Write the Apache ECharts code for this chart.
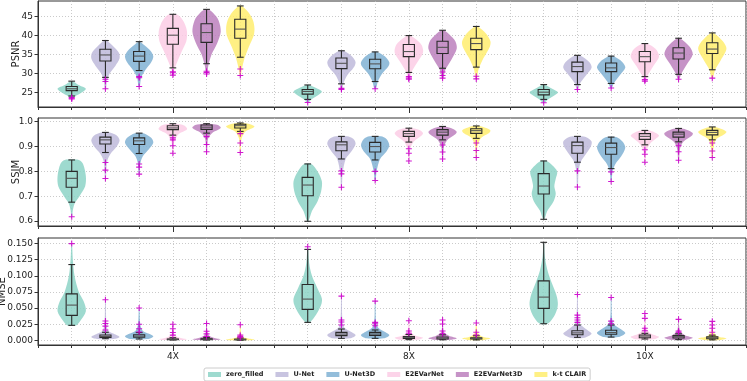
<!DOCTYPE html>
<html><head><meta charset="utf-8">
<script src="https://cdn.jsdelivr.net/npm/echarts@6/dist/echarts.min.js"></script>
<style>html,body{margin:0;padding:0;background:#fff}#c{width:747px;height:381px}</style>
</head><body><div id="c"></div>
<script>
const groups = ['4X', '8X', '10X'];
const groupPos = [3, 10, 17];
const methods = ['zero_filled', 'U-Net', 'U-Net3D', 'E2EVarNet', 'E2EVarNet3D', 'k-t CLAIR'];
const colors = ['#8dd3c7', '#bebada', '#80b1d3', '#fccde5', '#bc80bd', '#ffed6f'];

const psnrTicks = [25, 30, 35, 40, 45];
const ssimTicks = [0.6, 0.7, 0.8, 0.9, 1.0];
const nmseTicks = [0, 0.025, 0.05, 0.075, 0.1, 0.125, 0.15];

// box stats [whiskerLow, q1, median, q3, whiskerHigh]; rows = groups, columns = methods
const psnrBox = [
  [[24.1,25.5,26.0,26.6,28.0],[29.0,33.3,34.9,36.4,38.7],[30.8,33.2,34.6,35.8,38.4],[31.5,37.7,40.1,41.9,45.6],[32.6,38.2,40.8,43.1,46.9],[34.3,39.3,41.7,44.3,47.8]],
  [[23.2,24.6,25.3,25.8,27.0],[27.3,31.3,32.7,34.1,36.0],[27.9,31.25,32.55,33.75,35.7],[30.3,34.45,35.8,37.65,40.0],[31.4,35.3,36.9,38.5,41.4],[31.7,36.3,37.9,39.3,42.4]],
  [[23.2,24.4,25.1,25.8,27.1],[27.1,30.5,31.85,33.0,34.8],[27.4,30.5,31.5,32.8,34.6],[29.2,33.1,34.45,35.8,37.9],[29.8,33.85,35.4,36.8,39.3],[31.0,35.3,36.45,38.1,40.7]]
];
const psnrOut = [
  [[23.3,23.5,23.7],[28.5,27.9,26.0],[29.2,28.9,26.6],[30.5,30.2,29.6],[30.6,30.3,29.9],[31.2,29.5]],
  [[22.4],[25.8,26.1],[26.0],[29.2,28.8,28.5],[30.4,29.5,28.8],[29.3,28.6]],
  [[22.3],[25.8],[26.2],[28.4,28.0],[28.5],[28.8]]
];
const psnrShape = [
  [
    [[23.3,0.05],[24,0.25],[25,0.7],[26,1],[27,0.5],[28,0.06]],
    [[25.8,0.04],[28,0.1],[30,0.3],[32,0.7],[34,1],[35.5,0.95],[37,0.6],[38.8,0.08]],
    [[26.5,0.04],[29,0.15],[31,0.45],[33,0.85],[34.5,1],[36,0.8],[37.5,0.35],[38.4,0.06]],
    [[29.6,0.04],[31,0.1],[33,0.3],[36,0.65],[38.5,0.95],[41,1],[43,0.85],[44.8,0.55],[45.6,0.25]],
    [[29.9,0.04],[32,0.12],[35,0.35],[38,0.75],[41,1],[44,0.85],[46,0.45],[46.9,0.12]],
    [[29.5,0.04],[31,0.1],[34,0.3],[37,0.6],[40,0.95],[42,1],[44,0.9],[46,0.6],[47.8,0.12]]
  ],
  [
    [[22.4,0.05],[23.2,0.25],[24.5,0.8],[25.3,1],[26,0.7],[27,0.1]],
    [[25.8,0.05],[27.5,0.15],[29.5,0.4],[31.5,0.85],[33,1],[34.5,0.75],[36,0.15]],
    [[26,0.05],[28,0.2],[30,0.5],[32,0.95],[33,1],[34.5,0.7],[35.7,0.15]],
    [[28.5,0.05],[30.5,0.2],[33,0.6],[35.5,1],[37.5,0.9],[39,0.5],[40,0.1]],
    [[28.8,0.05],[31,0.2],[33.5,0.6],[36.5,1],[38.5,0.9],[40.2,0.5],[41.4,0.1]],
    [[28.6,0.05],[31,0.15],[34,0.5],[37,0.95],[38.5,1],[40.5,0.7],[42.4,0.1]]
  ],
  [
    [[22.3,0.05],[23.2,0.3],[24.5,0.85],[25.1,1],[26,0.6],[27.1,0.05]],
    [[25.8,0.05],[27.5,0.2],[29.5,0.6],[31.5,1],[33,0.85],[34.8,0.15]],
    [[26.2,0.05],[27.5,0.2],[29.5,0.6],[31.5,1],[33,0.8],[34.6,0.15]],
    [[28,0.05],[29.5,0.2],[32,0.6],[34.5,1],[36.5,0.75],[37.9,0.15]],
    [[28.5,0.05],[30,0.2],[32.5,0.6],[35,1],[37,0.8],[39.3,0.1]],
    [[28.8,0.05],[31,0.2],[33.5,0.6],[36.5,1],[38.5,0.75],[40.7,0.1]]
  ]
];

const ssimBox = [
  [[0.676,0.736,0.772,0.80,0.846],[0.876,0.91,0.927,0.938,0.957],[0.872,0.908,0.923,0.935,0.954],[0.946,0.968,0.975,0.984,0.992],[0.954,0.969,0.978,0.987,0.992],[0.961,0.975,0.984,0.99,0.995]],
  [[0.599,0.702,0.745,0.776,0.83],[0.85,0.883,0.907,0.919,0.941],[0.846,0.878,0.90,0.917,0.941],[0.918,0.941,0.952,0.961,0.974],[0.927,0.946,0.958,0.968,0.981],[0.933,0.953,0.964,0.972,0.983]],
  [[0.607,0.709,0.741,0.791,0.842],[0.837,0.873,0.904,0.918,0.941],[0.811,0.869,0.896,0.914,0.938],[0.907,0.929,0.941,0.952,0.965],[0.919,0.938,0.95,0.958,0.973],[0.927,0.947,0.957,0.965,0.979]]
];
const ssimOut = [
  [[0.617],[0.836,0.805,0.771],[0.83,0.817,0.789],[0.935,0.927,0.903,0.873],[0.94,0.908,0.879],[0.952,0.914,0.876]],
  [[],[0.802,0.79,0.736],[0.80,0.763],[0.891,0.873,0.842],[0.906,0.878,0.85],[0.914,0.884,0.856]],
  [[],[0.802,0.737],[0.798,0.759],[0.887,0.869,0.837],[0.903,0.879,0.845],[0.914,0.882,0.856]]
];
const ssimShape = [
  [
    [[0.617,0.03],[0.64,0.07],[0.67,0.2],[0.70,0.55],[0.74,0.95],[0.78,1],[0.83,0.8],[0.846,0.5]],
    [[0.771,0.03],[0.8,0.06],[0.84,0.12],[0.87,0.35],[0.9,0.8],[0.925,1],[0.945,0.8],[0.957,0.3]],
    [[0.789,0.03],[0.83,0.08],[0.86,0.25],[0.89,0.7],[0.915,1],[0.935,0.85],[0.954,0.3]],
    [[0.873,0.03],[0.92,0.1],[0.95,0.4],[0.97,1],[0.985,0.8],[0.992,0.2]],
    [[0.879,0.03],[0.93,0.1],[0.955,0.4],[0.975,1],[0.987,0.8],[0.992,0.2]],
    [[0.876,0.03],[0.93,0.08],[0.96,0.35],[0.98,1],[0.99,0.7],[0.995,0.2]]
  ],
  [
    [[0.599,0.05],[0.64,0.3],[0.68,0.7],[0.72,0.95],[0.76,1],[0.8,0.7],[0.83,0.25]],
    [[0.736,0.03],[0.79,0.08],[0.85,0.3],[0.88,0.7],[0.91,1],[0.93,0.85],[0.941,0.4]],
    [[0.763,0.03],[0.80,0.1],[0.85,0.35],[0.88,0.8],[0.905,1],[0.93,0.8],[0.941,0.4]],
    [[0.842,0.03],[0.89,0.1],[0.92,0.35],[0.945,0.9],[0.955,1],[0.967,0.75],[0.974,0.3]],
    [[0.85,0.03],[0.9,0.1],[0.93,0.4],[0.95,0.9],[0.96,1],[0.972,0.7],[0.981,0.2]],
    [[0.856,0.03],[0.9,0.08],[0.935,0.35],[0.955,0.9],[0.965,1],[0.975,0.7],[0.983,0.2]]
  ],
  [
    [[0.607,0.05],[0.64,0.25],[0.68,0.7],[0.71,0.85],[0.74,0.75],[0.77,0.85],[0.8,0.95],[0.825,0.6],[0.842,0.2]],
    [[0.737,0.03],[0.8,0.08],[0.84,0.25],[0.87,0.6],[0.9,0.95],[0.92,1],[0.935,0.7],[0.941,0.35]],
    [[0.759,0.03],[0.8,0.1],[0.83,0.3],[0.86,0.7],[0.895,1],[0.92,0.8],[0.938,0.35]],
    [[0.837,0.03],[0.88,0.1],[0.91,0.35],[0.935,0.85],[0.945,1],[0.957,0.7],[0.965,0.3]],
    [[0.845,0.03],[0.89,0.1],[0.92,0.35],[0.945,0.95],[0.955,1],[0.967,0.6],[0.973,0.25]],
    [[0.856,0.03],[0.9,0.1],[0.93,0.3],[0.95,0.85],[0.96,1],[0.972,0.6],[0.979,0.2]]
  ]
];

const nmseBox = [
  [[0.0232,0.0387,0.0546,0.072,0.1175],[0.0025,0.0046,0.006,0.0082,0.0124],[0.002,0.0048,0.0065,0.0085,0.012],[0.0005,0.001,0.0015,0.002,0.004],[0.0005,0.001,0.0017,0.0025,0.0045],[0.0003,0.0007,0.0012,0.0018,0.0035]],
  [[0.0278,0.048,0.0639,0.0866,0.141],[0.003,0.0072,0.0097,0.0123,0.0175],[0.003,0.0077,0.0098,0.0123,0.016],[0.001,0.003,0.0045,0.006,0.009],[0.0008,0.002,0.0035,0.005,0.0085],[0.0006,0.002,0.003,0.004,0.007]],
  [[0.0257,0.0495,0.067,0.0922,0.152],[0.0046,0.0087,0.0115,0.0149,0.0237],[0.005,0.0093,0.012,0.0155,0.0237],[0.002,0.004,0.0065,0.0082,0.0108],[0.001,0.0036,0.0055,0.0072,0.01],[0.0007,0.0025,0.004,0.0055,0.008]]
];
const nmseOut = [
  [[0.150],[0.063,0.030,0.026,0.022,0.016],[0.050,0.025,0.018,0.013],[0.025,0.018,0.012,0.008],[0.026,0.014,0.010,0.006],[0.024,0.008,0.006,0.004]],
  [[0.145],[0.0685,0.0314,0.0283,0.0237],[0.0608,0.0278,0.0257,0.0226],[0.0303,0.0144,0.0108],[0.0314,0.0252,0.0144,0.0102],[0.0268,0.0124,0.0082]],
  [[],[0.0711,0.0391,0.035,0.0314,0.0278],[0.0665,0.0298,0.0257],[0.0417,0.034,0.0186,0.0149],[0.0325,0.0144,0.0124],[0.0294,0.0237,0.0186,0.0124]]
];
const nmseShape = [
  [
    [[0.023,0.3],[0.03,0.6],[0.045,1],[0.06,0.85],[0.075,0.5],[0.1,0.2],[0.125,0.08],[0.15,0.02]],
    [[0.002,0.6],[0.005,1],[0.01,0.6],[0.015,0.2],[0.025,0.08],[0.04,0.04],[0.063,0.02]],
    [[0.002,0.6],[0.006,1],[0.01,0.7],[0.015,0.25],[0.025,0.08],[0.05,0.02]],
    [[0.0003,0.7],[0.0015,1],[0.004,0.5],[0.008,0.15],[0.015,0.05],[0.025,0.02]],
    [[0.0003,0.7],[0.0015,1],[0.004,0.5],[0.008,0.15],[0.015,0.05],[0.026,0.02]],
    [[0.0002,0.7],[0.001,1],[0.003,0.5],[0.006,0.15],[0.012,0.05],[0.024,0.02]]
  ],
  [
    [[0.028,0.15],[0.04,0.6],[0.055,0.95],[0.065,1],[0.08,0.7],[0.1,0.3],[0.12,0.1],[0.145,0.02]],
    [[0.003,0.6],[0.008,1],[0.013,0.7],[0.02,0.2],[0.03,0.08],[0.045,0.04],[0.068,0.02]],
    [[0.003,0.6],[0.008,1],[0.013,0.7],[0.02,0.2],[0.03,0.06],[0.061,0.02]],
    [[0.0008,0.6],[0.004,1],[0.008,0.4],[0.015,0.1],[0.03,0.02]],
    [[0.0007,0.6],[0.003,1],[0.007,0.45],[0.012,0.12],[0.02,0.04],[0.031,0.02]],
    [[0.0006,0.6],[0.003,1],[0.006,0.4],[0.012,0.1],[0.027,0.02]]
  ],
  [
    [[0.026,0.3],[0.04,0.8],[0.055,1],[0.07,0.9],[0.09,0.55],[0.11,0.25],[0.13,0.08],[0.152,0.02]],
    [[0.004,0.5],[0.01,1],[0.016,0.7],[0.025,0.2],[0.035,0.08],[0.05,0.04],[0.071,0.02]],
    [[0.005,0.5],[0.011,1],[0.017,0.7],[0.025,0.2],[0.035,0.06],[0.066,0.02]],
    [[0.0015,0.6],[0.005,1],[0.01,0.45],[0.018,0.12],[0.03,0.04],[0.042,0.02]],
    [[0.001,0.6],[0.004,1],[0.008,0.45],[0.014,0.12],[0.022,0.04],[0.0325,0.02]],
    [[0.0005,0.6],[0.003,1],[0.006,0.4],[0.012,0.1],[0.02,0.04],[0.03,0.02]]
  ]
];

const panels = [
  {name:'PSNR', box:psnrBox, out:psnrOut, shape:psnrShape, ticks:psnrTicks, min:21.2, max:49.1, top:1, height:106, nameGap:17, fmt:v=>String(v)},
  {name:'SSIM', box:ssimBox, out:ssimOut, shape:ssimShape, ticks:ssimTicks, min:0.58, max:1.015, top:118, height:108, nameGap:17, fmt:v=>v.toFixed(1)},
  {name:'NMSE', box:nmseBox, out:nmseOut, shape:nmseShape, ticks:nmseTicks, min:-0.0073, max:0.1587, top:238, height:107, nameGap:30.5, fmt:v=>v.toFixed(3)}
];

const slot = (gi, m) => gi * 7 + m;
const PLUS = 'path://M-1,-0.18L-0.18,-0.18L-0.18,-1L0.18,-1L0.18,-0.18L1,-0.18L1,0.18L0.18,0.18L0.18,1L-0.18,1L-0.18,0.18L-1,0.18Z';

function makeRender(p, m) {
  const P = panels[p];
  return function (params, api) {
    const gi = params.dataIndex;
    const x = slot(gi, m);
    const b = P.box[gi][m];
    const prof = P.shape[gi][m];
    const unit = api.size([1, 0])[0];
    const hw = 0.42 * unit;
    const right = [], left = [];
    prof.forEach(([v, w]) => {
      const c = api.coord([x, v]);
      right.push([c[0] + w * hw, c[1]]);
      left.push([c[0] - w * hw, c[1]]);
    });
    const pts = right.concat(left.reverse());
    const cx = api.coord([x, b[2]])[0];
    const Y = i => api.coord([x, b[i]])[1];
    const bw = 0.165 * unit, cw = 0.1 * unit;
    const ls = {stroke: '#2a2a2a', lineWidth: 1.1};
    const children = [
      {type: 'polygon', shape: {points: pts, smooth: 0.3}, style: {fill: colors[m], opacity: 0.85}},
      {type: 'line', shape: {x1: cx, y1: Y(3), x2: cx, y2: Y(4)}, style: ls},
      {type: 'line', shape: {x1: cx, y1: Y(1), x2: cx, y2: Y(0)}, style: ls},
      {type: 'line', shape: {x1: cx - cw, y1: Y(4), x2: cx + cw, y2: Y(4)}, style: ls},
      {type: 'line', shape: {x1: cx - cw, y1: Y(0), x2: cx + cw, y2: Y(0)}, style: ls},
      {type: 'rect', shape: {x: cx - bw, y: Y(3), width: 2 * bw, height: Y(1) - Y(3)}, style: {stroke: '#2a2a2a', lineWidth: 1.1, fill: 'none'}},
      {type: 'line', shape: {x1: cx - bw, y1: Y(2), x2: cx + bw, y2: Y(2)}, style: {stroke: '#555', lineWidth: 1.1}}
    ];
    return {type: 'group', children: children};
  };
}

const grid = [], xAxis = [], yAxis = [], series = [];
const gridLine = {show: true, lineStyle: {color: '#bdbdbd', type: [1, 2], width: 0.8}};
panels.forEach((P, p) => {
  grid.push({left: 38, right: 1, top: P.top, height: P.height, containLabel: false, outerBoundsMode: 'none',
    show: true, borderColor: '#333', borderWidth: 1, backgroundColor: '#fff'});
  xAxis.push({gridIndex: p, type: 'value', min: -1, max: 20, interval: 1, position: 'bottom',
    axisLine: {show: true, onZero: false, lineStyle: {color: '#333'}},
    axisTick: {show: true, length: 3, lineStyle: {color: '#333'}},
    axisLabel: {show: false}, splitLine: gridLine});
  xAxis.push({gridIndex: p, type: 'value', min: -1, max: 20, position: 'bottom',
    axisLine: {show: false, onZero: false},
    axisTick: {show: true, length: 6, customValues: groupPos, lineStyle: {color: '#333'}},
    axisLabel: {show: p === 2, customValues: groupPos, formatter: v => groups[groupPos.indexOf(v)] || '', fontSize: 9, color: '#222', margin: 7},
    splitLine: {show: false}});
  yAxis.push({gridIndex: p, type: 'value', min: P.min, max: P.max,
    name: P.name, nameLocation: 'middle', nameGap: P.nameGap, nameMoveOverlap: false, nameTextStyle: {fontSize: 10, color: '#222'},
    axisLine: {show: true, onZero: false, lineStyle: {color: '#333'}},
    axisTick: {show: true, length: 3.5, customValues: P.ticks, lineStyle: {color: '#333'}},
    axisLabel: {customValues: P.ticks, formatter: P.fmt, fontSize: 9, color: '#222', margin: 5},
    splitLine: gridLine});
  methods.forEach((name, m) => {
    series.push({type: 'custom', name: name, xAxisIndex: 2 * p, yAxisIndex: p,
      itemStyle: {color: colors[m], opacity: 0.85},
      data: groups.map((g, gi) => [slot(gi, m), P.box[gi][m][2]]),
      encode: {x: 0, y: 1}, renderItem: makeRender(p, m), z: 2, silent: true});
  });
  const pts = [];
  groups.forEach((g, gi) => methods.forEach((mm, m) => P.out[gi][m].forEach(v => pts.push([slot(gi, m), v]))));
  series.push({type: 'scatter', name: 'outliers', xAxisIndex: 2 * p, yAxisIndex: p, data: pts,
    symbol: PLUS, symbolSize: 6, itemStyle: {color: '#cc00cc', opacity: 0.9}, z: 5, silent: true});
});

const chart = echarts.init(document.getElementById('c'), null, {renderer: 'canvas'});
chart.setOption({
  animation: false,
  textStyle: {fontFamily: 'DejaVu Sans'},
  grid: grid, xAxis: xAxis, yAxis: yAxis, series: series,
  legend: {data: methods, left: 204, bottom: 0, orient: 'horizontal', icon: 'rect', itemWidth: 13, itemHeight: 5, itemGap: 12,
    padding: [3, 4], borderColor: '#ccc', borderWidth: 1, borderRadius: 2,
    textStyle: {fontSize: 6.5, fontWeight: 'bold', color: '#222'}}
});
</script></body></html>
